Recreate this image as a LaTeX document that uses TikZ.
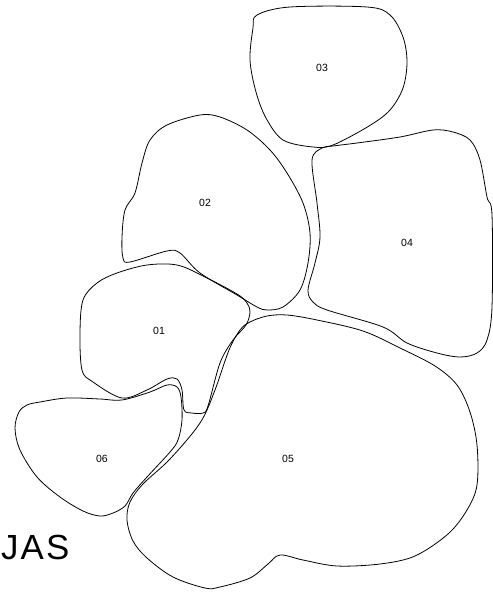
\documentclass[tikz,border=0pt]{standalone}
\usepackage{fontspec}
\setsansfont{Liberation Sans}
\usepackage{tikz}

\begin{document}
\begin{tikzpicture}[x=1bp,y=-1bp,blob/.style={draw=black,line width=.8pt,line join=round},lbl/.style={font=\sffamily\fontsize{10.5}{10.5}\selectfont,inner sep=1pt}]
\useasboundingbox (0,0) rectangle (493,592);
\draw[blob] plot[smooth cycle,tension=.55] coordinates {(257,15) (290,7) (367,7) (390,15) (403,37) (407,62) (403,88) (390,110) (369,126) (333,145) (313,147) (283,140) (266,118) (256,92) (250,60) (253,28)};
\draw[blob] plot[smooth cycle,tension=.55] coordinates {(200,115) (220,117) (247,130) (270,150) (287,173) (303,203) (310,233) (308,263) (300,290) (283,307) (267,310) (257,307) (237,295) (200,273) (180,253) (167,251) (130,262) (123,258) (122,237) (125,210) (135,193) (142,163) (150,140) (167,125)};
\draw[blob] plot[smooth cycle,tension=.55] coordinates {(322,148) (333,146) (357,143) (400,137) (433,130) (453,132) (470,140) (480,160) (487,197) (492,215) (492,307) (487,340) (477,353) (460,357) (437,353) (407,343) (383,327) (327,310) (313,302) (308,290) (315,263) (320,237) (317,203) (312,160)};
\draw[blob] plot[smooth cycle,tension=.55] coordinates {(83,300) (80,333) (82,370) (93,382) (122,398) (147,390) (167,379) (177,379) (182,390) (184,410) (192,413) (203,413) (208,406) (220,363) (233,340) (246,325) (250,312) (247,303) (237,294) (203,276) (177,265) (147,265) (117,273) (97,283)};
\draw[blob] plot[smooth cycle,tension=.55] coordinates {(27,405) (40,402) (67,398) (100,399) (122,400) (150,392) (167,385) (177,387) (181,397) (182,420) (178,440) (170,452) (147,477) (133,493) (125,506) (113,513) (100,516) (83,511) (60,497) (37,477) (20,450) (15,428) (19,412)};
\draw[blob] plot[smooth cycle,tension=.55] coordinates {(250,322) (267,316) (287,315) (317,320) (363,331) (400,348) (435,366) (457,385) (470,412) (477,445) (477,485) (467,510) (448,534) (415,556) (380,564) (337,566) (303,560) (280,555) (268,564) (250,578) (220,587) (205,588) (173,577) (147,558) (133,541) (127,520) (130,502) (143,484) (170,459) (200,423) (215,390) (229,350) (240,330)};
\node[lbl] (p01) at (159,331) {01};
\node[lbl] (p02) at (205,203) {02};
\node[lbl] (p03) at (322,68) {03};
\node[lbl] (p04) at (407,243) {04};
\node[lbl] (p05) at (288,459) {05};
\node[lbl] (p06) at (102,459) {06};
\node[font=\sffamily\fontsize{35}{35}\selectfont\addfontfeature{LetterSpace=6},inner sep=0pt,anchor=west] (sig) at (1,547) {JAS};
\end{tikzpicture}
\end{document}
